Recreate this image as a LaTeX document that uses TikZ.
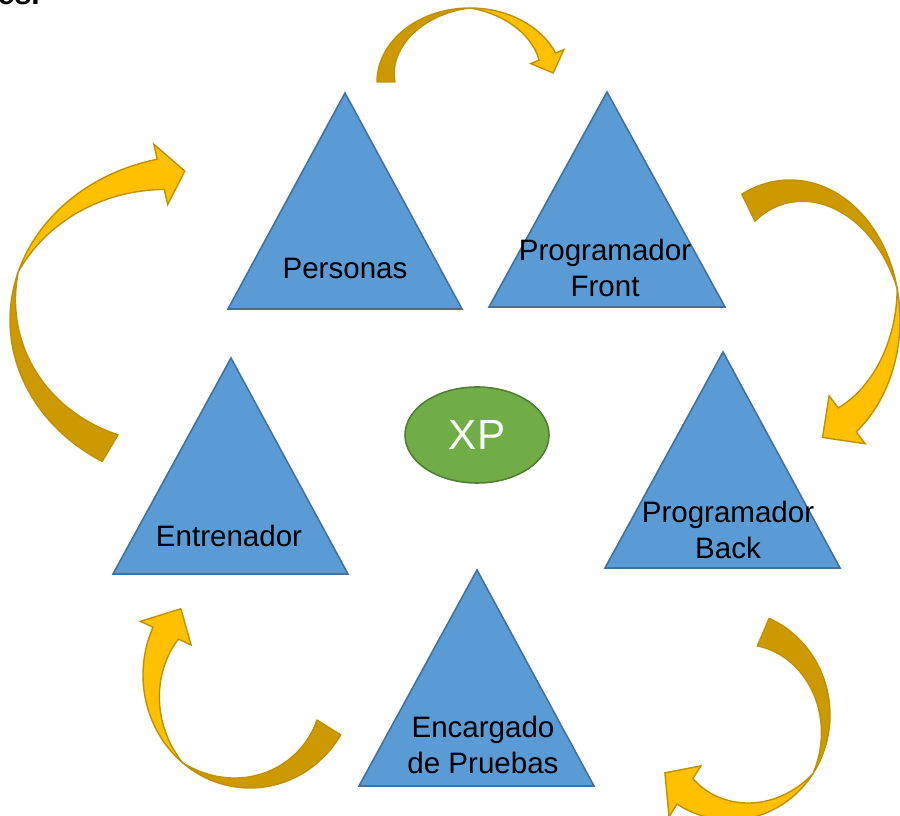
\documentclass[tikz,border=0pt]{standalone}
\usepackage{fontspec}
\setmainfont{Liberation Sans}
\usepackage{xcolor}
\usepackage{tikz}

\definecolor{triFill}{HTML}{5B9BD5}
\definecolor{triLine}{HTML}{41719C}
\definecolor{xpFill}{HTML}{70AD47}
\definecolor{xpLine}{HTML}{507E32}
\definecolor{arrLight}{HTML}{FFC000}
\definecolor{arrDark}{HTML}{CC9A00}
\definecolor{arrLine}{HTML}{BF9000}

\begin{document}
\begin{tikzpicture}
[
	x={(0.01cm,0)}, y={(0,-0.01cm)},
	tri/.style={fill=triFill, draw=triLine, line width=0.45pt, line join=miter},
	roleText/.style={align=center, font=\fontsize{8.4}{10}\selectfont, text=black, inner sep=0pt},
	tailpart/.style={fill=arrDark, draw=arrLine, line width=0.4pt, line join=round},
	headpart/.style={fill=arrLight, draw=arrLine, line width=0.4pt, line join=miter}
]

% center x, center y, radius x, radius y, tail angle, twist angle, neck angle, tip angle, width
\def\ribbonarrow#1#2#3#4#5#6#7#8#9{%
	\filldraw[tailpart] plot[domain=#5:#6, samples=40] ({#1+#3*cos(\x)},{#2+#4*sin(\x)})
		-- plot[domain=#6:#5, samples=40] ({#1+(#3-#9*(\x-#6)/(#5-#6))*cos(\x)},{#2+(#4-#9*(\x-#6)/(#5-#6))*sin(\x)}) -- cycle;
	\filldraw[headpart] plot[domain=#6:#7, samples=40] ({#1+#3*cos(\x)},{#2+#4*sin(\x)})
		-- ({#1+(#3+0.5*#9)*cos(#7)},{#2+(#4+0.5*#9)*sin(#7)})
		-- ({#1+(#3-0.5*#9)*cos(#8)},{#2+(#4-0.5*#9)*sin(#8)})
		-- ({#1+(#3-1.5*#9)*cos(#7)},{#2+(#4-1.5*#9)*sin(#7)})
		-- plot[domain=#7:#6, samples=40] ({#1+(#3-#9*(\x-#6)/(#7-#6))*cos(\x)},{#2+(#4-#9*(\x-#6)/(#7-#6))*sin(\x)}) -- cycle;
}

% Page
\clip (0,0) rectangle (900,816);
\fill[white] (0,0) rectangle (900,816);

% Cut off heading
\node[anchor=base west, inner sep=0pt, font=\fontsize{8.6}{10}\selectfont\bfseries] (heading) at (-3,5) {es.};

% Draw curved arrows
\ribbonarrow{470}{82}{93}{74}{180}{270}{337}{352}{18}
\ribbonarrow{790}{320}{110}{140}{244}{347}{413}{430}{30}
\ribbonarrow{730}{715}{100}{105}{293}{394}{482}{500}{30}
\ribbonarrow{250}{675}{107}{113}{32}{129}{205}{222}{28}
\ribbonarrow{200}{320}{190}{165}{121}{197}{257}{265}{31}

% Draw triangles
\filldraw[tri] (345,93) -- (462,309) -- (228,309) -- cycle;
\filldraw[tri] (607,92) -- (725,307) -- (489,307) -- cycle;
\filldraw[tri] (723,352) -- (840,568) -- (605,568) -- cycle;
\filldraw[tri] (477,570) -- (594,786) -- (359,786) -- cycle;
\filldraw[tri] (231,358) -- (348,574) -- (113,574) -- cycle;

% Role names
\node[roleText] (personas) at (345,268) {Personas};
\node[roleText] (front) at (605,268) {Programador\\Front};
\node[roleText] (back) at (728,530) {Programador\\Back};
\node[roleText] (pruebas) at (483,745) {Encargado\\de Pruebas};
\node[roleText] (entrenador) at (229,536) {Entrenador};

% Center
\filldraw[fill=xpFill, draw=xpLine, line width=0.45pt] (477,435) ellipse [x radius=72, y radius=48];
\node[font=\fontsize{12}{14}\selectfont, text=white, inner sep=0pt] (xp) at (477,435) {XP};

\end{tikzpicture}
\end{document}
